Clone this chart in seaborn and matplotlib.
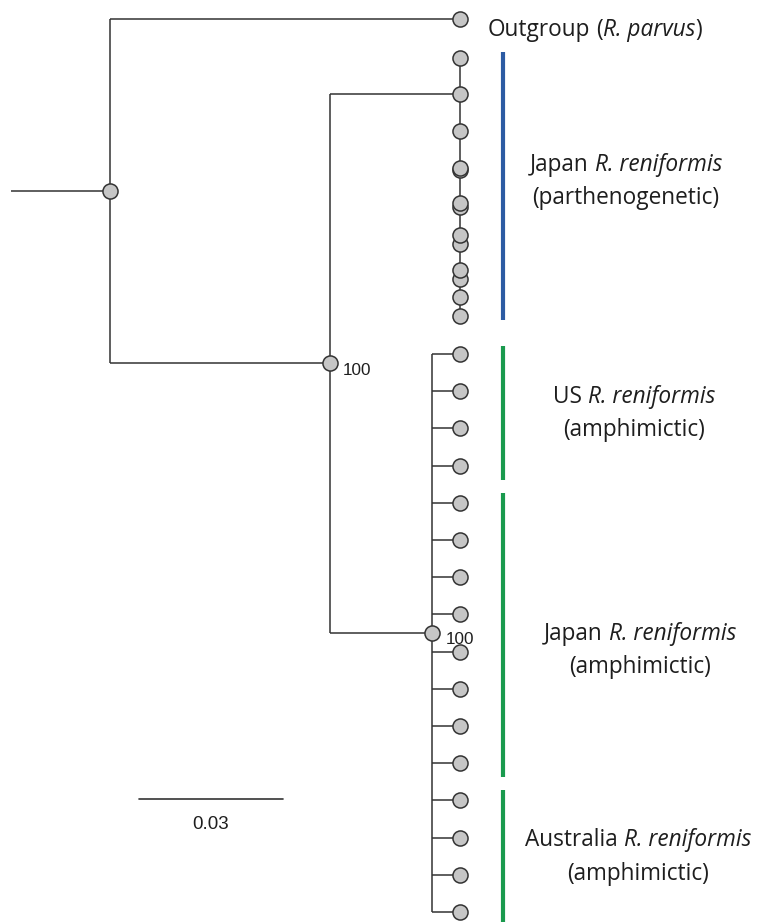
import numpy as np
import pandas as pd
import matplotlib
matplotlib.use('Agg')
import matplotlib.pyplot as plt
import seaborn as sns
from matplotlib.offsetbox import TextArea, HPacker, DrawingArea, AnnotationBbox

sns.set_theme(style='white')
plt.rcParams['font.family'] = ['Open Sans', 'DejaVu Sans']

# branch lengths (subst./site), read against the 0.03 scale bar
root_stem = 0.0206
outgroup_len = 0.0729
ingroup_len = 0.0458      # root -> node "100" (all R. reniformis)
parth_stem = 0.0271       # -> parthenogenetic clade
amph_stem = 0.0213        # -> amphimictic node "100"
amph_tip_len = 0.0058

# tip rows (1 row = spacing of the amphimictic tips)
outgroup_row = -9.0
parth_node_row = -7.0
parth_rows = [-7.96, -6.99, -5.99, -5.0, -4.95, -4.06, -3.95,
              -3.2, -2.96, -2.26, -2.02, -1.53, -1.02]
amph_rows = [0, 1, 2, 3, 4, 5, 6, 7, 8, 9, 10, 11, 12, 13, 14, 15]

bootstrap = ['100', '100']

# clade labels and bars
group_place = ['Japan', 'US', 'Japan', 'Australia']
group_mode = ['(parthenogenetic)', '(amphimictic)', '(amphimictic)', '(amphimictic)']
group_span = [(-8.12, -0.91), (-0.22, 3.39), (3.74, 11.37), (11.72, 15.5)]
group_color = ['#2c5ba3', '#1a9a4e', '#1a9a4e', '#1a9a4e']
label_x = [0.1075, 0.1092, 0.1104, 0.1100]
label_row = [-4.92, 1.32, 7.69, 13.25]

scale_len = 0.03

line_c = '#333333'
text_c = '#1e1e1e'
lw = 1.1
fs = 16.3

fig = plt.figure(figsize=(7.57, 9.22), dpi=100)
ax = fig.add_axes([0, 0, 1, 1])
ax.set_xlim(-0.02292, 0.13479)
ax.set_ylim(15.27, -9.516)
ax.axis('off')


def seg(x0, x1, y0, y1):
    ax.plot([x0, x1], [y0, y1], color=line_c, lw=lw, solid_capstyle='butt', zorder=1)


def mixed(x, row, parts, halign):
    # parts: (text, style); ' ' becomes a word gap
    kids = []
    for s, st in parts:
        if s == ' ':
            kids.append(DrawingArea(4.2, 0))
        else:
            kids.append(TextArea(s, textprops=dict(fontsize=fs, color=text_c, style=st)))
    pack = HPacker(children=kids, align='baseline', pad=0, sep=0)
    ab = AnnotationBbox(pack, (x, row), xycoords='data', box_alignment=(halign, 0.0),
                        frameon=False, pad=0)
    ax.add_artist(ab)


# node positions
a_x = ingroup_len
p_x = a_x + parth_stem
b_x = a_x + amph_stem
b_row = (min(amph_rows) + max(amph_rows)) / 2
a_row = (parth_node_row + b_row) / 2
root_row = (outgroup_row + a_row) / 2

# branches
seg(-root_stem, 0, root_row, root_row)
seg(0, 0, outgroup_row, a_row)
seg(0, outgroup_len, outgroup_row, outgroup_row)
seg(0, a_x, a_row, a_row)
seg(a_x, a_x, parth_node_row, b_row)
seg(a_x, p_x, parth_node_row, parth_node_row)
seg(p_x, p_x, min(parth_rows), max(parth_rows))
seg(a_x, b_x, b_row, b_row)
seg(b_x, b_x, min(amph_rows), max(amph_rows))
for r in amph_rows:
    seg(b_x, b_x + amph_tip_len, r, r)

# circles
nodes = pd.DataFrame({
    'x': [0, a_x, b_x, outgroup_len] + [p_x] * len(parth_rows)
         + [b_x + amph_tip_len] * len(amph_rows),
    'y': [root_row, a_row, b_row, outgroup_row] + parth_rows + amph_rows,
})
nodes = nodes.iloc[::-1]
sns.scatterplot(data=nodes, x='x', y='y', s=118, color='#c6c6c6',
                edgecolor=line_c, linewidth=1.1, zorder=3, ax=ax, legend=False)

# bootstrap values
for (nx, ny), b in zip([(a_x, a_row), (b_x, b_row)], bootstrap):
    ax.annotate(b, (nx, ny), xytext=(9.5, -8.3), textcoords='offset points',
                ha='left', va='baseline', fontsize=12.3, color=text_c,
                family='Liberation Sans', zorder=4)

# outgroup label (bottom of text box incl. descent)
mixed(0.07875, -8.55 + 0.15,
      [('Outgroup', 'normal'), (' ', None), ('(', 'normal'),
       ('R. parvus', 'italic'), (')', 'normal')], 0.0)

# clade bars and labels
bar_x = 0.0819
for place, mode, span, c, lx, lr in zip(group_place, group_mode, group_span,
                                        group_color, label_x, label_row):
    ax.plot([bar_x, bar_x], span, color=c, lw=3, solid_capstyle='butt')
    mixed(lx, lr + 0.15, [(place, 'normal'), (' ', None), ('R. reniformis', 'italic')], 0.5)
    ax.text(lx, lr + 0.89, mode, ha='center', va='baseline', fontsize=fs,
            color=text_c)

# scale bar
sb_x0 = 0.00604
sb_row = 11.96
ax.plot([sb_x0, sb_x0 + scale_len], [sb_row, sb_row], color=line_c, lw=1.2)
ax.text(sb_x0 + scale_len / 2, 12.77, f'{scale_len:.2f}', ha='center',
        va='baseline', fontsize=13.5, color=text_c, family='Liberation Sans')

fig.savefig('out.png', dpi=100, facecolor='white')
